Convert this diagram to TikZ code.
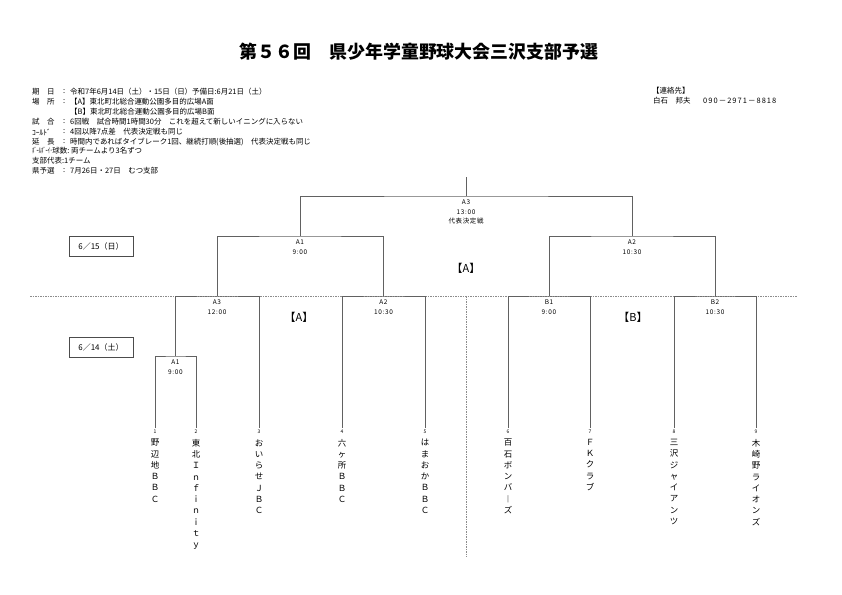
\documentclass[tikz,border=0pt]{standalone}
\usepackage{fontspec}
\setmainfont{Noto Sans CJK JP}
\newfontfamily\lblfont[LetterSpace=10]{Noto Sans CJK JP}
\newfontfamily\telfont[LetterSpace=14]{Noto Sans CJK JP}
\usetikzlibrary{positioning}
\tikzset{
  bline/.style={draw=black!62, line width=0.9bp},
  sepline/.style={draw=black!45, line width=0.7bp, dash pattern=on 1.5bp off 1bp},
  mlabel/.style={font=\lblfont\fontsize{6.5}{9.5}\selectfont, align=center, inner sep=0pt, anchor=north},
  team/.style={font=\fontsize{8.5}{11.3}\selectfont, align=center, inner sep=0pt},
  tnum/.style={font=\fontsize{5}{6}\selectfont, inner sep=0pt},
  info/.style={font=\fontsize{7.5}{9}\selectfont, inner sep=0pt, anchor=west},
  daybox/.style={draw=black!70, line width=0.8bp, minimum width=64bp, minimum height=20bp, font=\fontsize{8}{9}\selectfont},
  group/.style={font=\fontsize{11}{12}\selectfont, inner sep=0pt}
}
\begin{document}
\begin{tikzpicture}[x=1bp, y=-1bp]
  \useasboundingbox (0,0) rectangle (842,595);
  % title and notes
  \node[font=\bfseries\fontsize{18}{20}\selectfont] (title) at (419,52) {第５６回　県少年学童野球大会三沢支部予選};
  \node[info] (h1) at (32,92) {期　日}; \node[info] (c1) at (63,92) {:};
  \node[info] (i1) at (70,92) {令和7年6月14日（土）・15日（日）予備日:6月21日（土）};
  \node[info] (h2) at (32,102) {場　所}; \node[info] (c2) at (63,102) {:};
  \node[info] (i2) at (70,102) {【A】東北町北総合運動公園多目的広場A面};
  \node[info] (i3) at (70,112) {【B】東北町北総合運動公園多目的広場B面};
  \node[info] (h4) at (32,122) {試　合}; \node[info] (c4) at (63,122) {:};
  \node[info] (i4) at (70,122) {6回戦　試合時間1時間30分　これを超えて新しいイニングに入らない};
  \node[info] (h5) at (32,132) {ｺｰﾙﾄﾞ}; \node[info] (c5) at (63,132) {:};
  \node[info] (i5) at (70,132) {4回以降7点差　代表決定戦も同じ};
  \node[info] (h6) at (32,142) {延　長}; \node[info] (c6) at (63,142) {:};
  \node[info] (i6) at (70,142) {時間内であればタイブレーク1回、継続打順(後抽選)　代表決定戦も同じ};
  \node[info] (h7) at (32,151) {\scalebox{0.6}[1]{ﾎﾞｰﾙﾎﾞｰｲ･}球数:};
  \node[info] (i7) at (71,151) {両チームより3名ずつ};
  \node[info] (h8) at (32,161) {支部代表:1チーム};
  \node[info] (h9) at (32,171) {県予選}; \node[info] (c9) at (63,171) {:};
  \node[info] (i9) at (70,171) {7月26日・27日　むつ支部};
  \node[info] (r1) at (652,91) {【連絡先】};
  \node[info] (r2) at (653,101) {白石　邦夫};
  \node[info, font=\telfont\fontsize{7.5}{9}\selectfont] (r3) at (703,101) {090－2971－8818};
  % days
  \node[daybox] (d15) at (101,246) {6／15（日）};
  \node[daybox] (d14) at (101,347) {6／14（土）};
  \coordinate (sl) at (30,296); \coordinate (sr) at (797,296);
  \coordinate (sm) at (466,296); \coordinate (sb) at (466,557);
  \draw[sepline] (sl) -- (sr); \draw[sepline] (sm) -- (sb);
  % teams
  \foreach \i/\x/\name in {1/155/{野\\辺\\地\\Ｂ\\Ｂ\\Ｃ}, 2/196/{東\\北\\Ｉ\\ｎ\\ｆ\\ｉ\\ｎ\\ｉ\\ｔ\\ｙ},
    3/259/{お\\い\\ら\\せ\\Ｊ\\Ｂ\\Ｃ}, 4/342/{六\\ヶ\\所\\Ｂ\\Ｂ\\Ｃ}, 5/425/{は\\ま\\お\\か\\Ｂ\\Ｂ\\Ｃ},
    6/508/{百\\石\\ボ\\ン\\バ\\︱\\ズ}, 7/590/{Ｆ\\Ｋ\\ク\\ラ\\ブ}, 8/674/{三\\沢\\ジ\\ャ\\イ\\ア\\ン\\ツ},
    9/756/{木\\崎\\野\\ラ\\イ\\オ\\ン\\ズ}}{
    \coordinate (t\i) at (\x,428);
    \node[tnum, below=2bp of t\i] (k\i) {\i};
    \node[team, anchor=north, below=5bp of k\i] (n\i) {\name};
  }
  % bracket
  \coordinate (a1) at (175.5,356); \coordinate (a3) at (217,296); \coordinate (a2) at (383.5,296);
  \coordinate (b1) at (549,296); \coordinate (b2) at (715,296);
  \coordinate (f1) at (300,236); \coordinate (f2) at (632,236);
  \coordinate (fin) at (466,196); \coordinate (top) at (466,177);
  \draw[bline] (t1) |- (a1) -| (t2);
  \draw[bline] (a1) |- (a3) -| (t3);
  \draw[bline] (t4) |- (a2) -| (t5);
  \draw[bline] (t6) |- (b1) -| (t7);
  \draw[bline] (t8) |- (b2) -| (t9);
  \draw[bline] (a3) |- (f1) -| (a2);
  \draw[bline] (b1) |- (f2) -| (b2);
  \draw[bline] (f1) |- (fin) -| (f2);
  \draw[bline] (fin) -- (top);
  \node[mlabel, below=4bp of a1] (la1) {A1\\9:00};
  \node[mlabel, below=4bp of a3] (la3) {A3\\12:00};
  \node[mlabel, below=4bp of a2] (la2) {A2\\10:30};
  \node[mlabel, below=4bp of b1] (lb1) {B1\\9:00};
  \node[mlabel, below=4bp of b2] (lb2) {B2\\10:30};
  \node[mlabel, below=4bp of f1] (lf1) {A1\\9:00};
  \node[mlabel, below=4bp of f2] (lf2) {A2\\10:30};
  \node[mlabel, below=4bp of fin] (lfin) {A3\\13:00\\代表決定戦};
  \node[group] (gA) at (466,268) {【A】};
  \node[group] (gA2) at (299,317) {【A】};
  \node[group] (gB) at (633,317) {【B】};
\end{tikzpicture}
\end{document}
